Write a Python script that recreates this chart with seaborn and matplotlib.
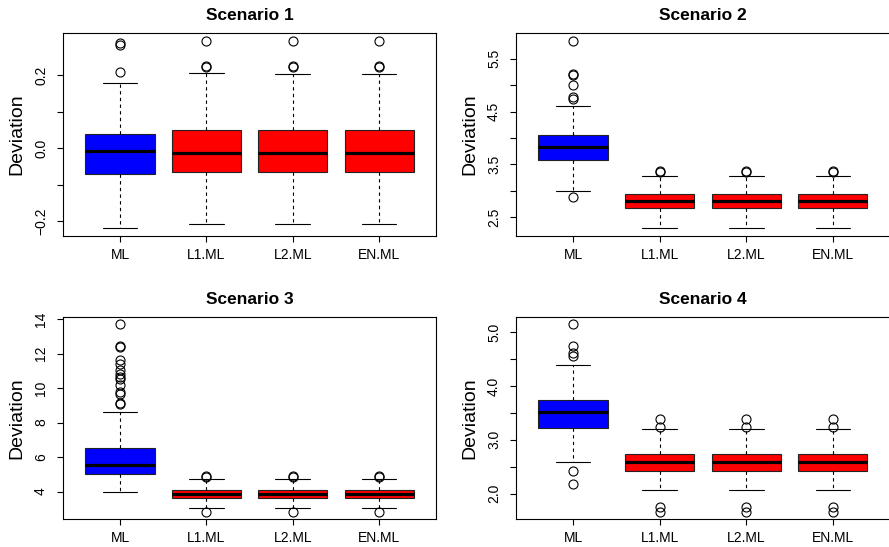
import matplotlib
matplotlib.use("Agg")
import matplotlib.pyplot as plt
import seaborn as sns
import numpy as np

sns.set_theme(style="ticks")
plt.rcParams['font.family'] = ['Liberation Sans', 'DejaVu Sans']

methods = ["ML", "L1.ML", "L2.ML", "EN.ML"]
box_colors = ["#0000FF", "#FF0000", "#FF0000", "#FF0000"]

# five-number summaries per scenario
s1_low = [-0.220, -0.209, -0.209, -0.209]
s1_q1 = [-0.071, -0.065, -0.065, -0.065]
s1_med = [-0.006, -0.014, -0.014, -0.014]
s1_q3 = [0.038, 0.049, 0.049, 0.049]
s1_high = [0.179, 0.206, 0.205, 0.205]
s1_out = [[0.210, 0.285, 0.288],
          [0.222, 0.226, 0.294],
          [0.222, 0.226, 0.296],
          [0.222, 0.226, 0.296]]

s2_low = [2.987, 2.285, 2.285, 2.285]
s2_q1 = [3.589, 2.665, 2.665, 2.665]
s2_med = [3.835, 2.804, 2.804, 2.804]
s2_q3 = [4.057, 2.937, 2.937, 2.937]
s2_high = [4.614, 3.285, 3.285, 3.285]
s2_out = [[2.886, 4.74, 4.78, 5.006, 5.20, 5.22, 5.848],
          [3.36, 3.38],
          [3.36, 3.38],
          [3.36, 3.38]]

s3_low = [3.98, 3.06, 3.06, 3.06]
s3_q1 = [5.04, 3.61, 3.61, 3.61]
s3_med = [5.56, 3.83, 3.83, 3.83]
s3_q3 = [6.52, 4.08, 4.08, 4.08]
s3_high = [8.60, 4.71, 4.71, 4.71]
s3_out = [[9.07, 9.16, 9.66, 9.76, 10.18, 10.53, 10.67, 10.80, 11.05,
           11.40, 11.63, 12.38, 12.44, 13.69],
          [2.84, 4.87, 4.92],
          [2.84, 4.87, 4.92],
          [2.84, 4.87, 4.92]]

s4_low = [2.594, 2.062, 2.062, 2.062]
s4_q1 = [3.224, 2.414, 2.414, 2.414]
s4_med = [3.521, 2.594, 2.594, 2.594]
s4_q3 = [3.738, 2.742, 2.742, 2.742]
s4_high = [4.387, 3.194, 3.194, 3.194]
s4_out = [[2.186, 2.42, 4.566, 4.61, 4.752, 5.148],
          [1.666, 1.753, 3.243, 3.391],
          [1.666, 1.753, 3.243, 3.391],
          [1.666, 1.753, 3.243, 3.391]]

s1_ticks = [-0.2, -0.1, 0.0, 0.1, 0.2]
s1_labels = ["\u22120.2", "", "0.0", "", "0.2"]
s2_ticks = [2.5, 3.0, 3.5, 4.0, 4.5, 5.0, 5.5]
s2_labels = ["2.5", "", "3.5", "", "4.5", "", "5.5"]
s3_ticks = [4, 6, 8, 10, 12, 14]
s3_labels = ["4", "6", "8", "10", "12", "14"]
s4_ticks = [2.0, 2.5, 3.0, 3.5, 4.0, 4.5, 5.0]
s4_labels = ["2.0", "", "3.0", "", "4.0", "", "5.0"]

scenarios = [
    ("Scenario 1", s1_low, s1_q1, s1_med, s1_q3, s1_high, s1_out, s1_ticks, s1_labels),
    ("Scenario 2", s2_low, s2_q1, s2_med, s2_q3, s2_high, s2_out, s2_ticks, s2_labels),
    ("Scenario 3", s3_low, s3_q1, s3_med, s3_q3, s3_high, s3_out, s3_ticks, s3_labels),
    ("Scenario 4", s4_low, s4_q1, s4_med, s4_q3, s4_high, s4_out, s4_ticks, s4_labels),
]

# axes rectangles in figure fractions (left, bottom, width, height)
rects = [
    [0.0709, 0.5686, 0.4196, 0.3711],
    [0.5804, 0.5686, 0.4207, 0.3711],
    [0.0709, 0.0512, 0.4196, 0.3693],
    [0.5804, 0.0512, 0.4207, 0.3693],
]

fig = plt.figure(figsize=(8.89, 5.47), dpi=100)
fig.patch.set_facecolor("white")

for (title, lo, q1, med, q3, hi, out, ticks, labels), rect in zip(scenarios, rects):
    ax = fig.add_axes(rect)
    ax.set_facecolor("white")
    stats = []
    for i in range(4):
        stats.append({"whislo": lo[i], "q1": q1[i], "med": med[i], "q3": q3[i],
                      "whishi": hi[i], "fliers": out[i], "label": methods[i]})
    bp = ax.bxp(stats, positions=[1, 2, 3, 4], widths=0.8, capwidths=0.4,
                patch_artist=True, showfliers=True,
                boxprops=dict(linewidth=0.8, edgecolor="#222222"),
                medianprops=dict(color="black", linewidth=2.3, solid_capstyle="butt"),
                whiskerprops=dict(color="black", linewidth=0.8, linestyle=(0, (3, 3))),
                capprops=dict(color="black", linewidth=0.8),
                flierprops=dict(marker="o", markersize=6.5, markerfacecolor="none",
                                markeredgecolor="black", markeredgewidth=0.8))
    for patch, c in zip(bp["boxes"], box_colors):
        patch.set_facecolor(c)

    allv = lo + hi + [v for o in out for v in o]
    vmin, vmax = min(allv), max(allv)
    pad = (vmax - vmin) * 0.04
    ax.set_ylim(vmin - pad, vmax + pad)
    ax.set_xlim(0.34, 4.66)

    ax.set_yticks(ticks)
    ax.set_yticklabels(labels, rotation=90, va="center", ha="right")
    ax.set_xticks([1, 2, 3, 4])
    ax.set_xticklabels(methods)
    ax.tick_params(axis="both", labelsize=10, length=4.3, width=0.8, color="black",
                   labelcolor="black")
    ax.tick_params(axis="y", pad=6.5)
    ax.tick_params(axis="x", pad=4)

    for sp in ax.spines.values():
        sp.set_visible(True)
        sp.set_color("black")
        sp.set_linewidth(0.8)

    ax.set_ylabel("Deviation", fontsize=14, color="black")
    ax.yaxis.set_label_coords(-38 / (rect[2] * 889), 0.5)
    ax.set_title(title, fontsize=12.5, fontweight="bold", color="black", pad=9)

fig.savefig("out.png", dpi=100, facecolor="white")
